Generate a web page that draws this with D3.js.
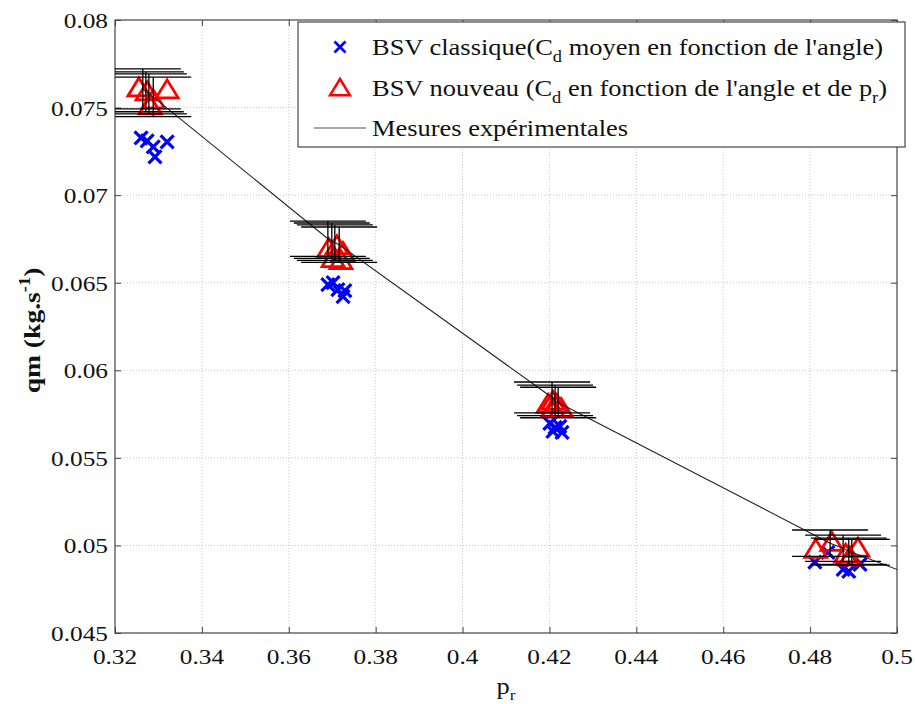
<!DOCTYPE html>
<html><head><meta charset="utf-8">
<script src="https://cdn.jsdelivr.net/npm/d3@7"></script>
<style>body{margin:0;background:#fff}</style>
</head><body><svg id="c" width="915" height="704" font-family="Liberation Serif, Times New Roman, serif"></svg>
<script>
// ---- data ----
const xTicks = [0.32,0.34,0.36,0.38,0.4,0.42,0.44,0.46,0.48,0.5];
const xTickLabels = ["0.32","0.34","0.36","0.38","0.4","0.42","0.44","0.46","0.48","0.5"];
const yTicks = [0.045,0.05,0.055,0.06,0.065,0.07,0.075,0.08];
const yTickLabels = ["0.045","0.05","0.055","0.06","0.065","0.07","0.075","0.08"];

// BSV classique (blue x)
const classiquePr = [0.3260,0.3274,0.3288,0.3292,0.3320, 0.3690,0.3702,0.3713,0.3725,0.3729, 0.4201,0.4213,0.4224,0.4208,0.4229, 0.4811,0.4841,0.4876,0.4889,0.4915];
const classiqueQm = [0.07327,0.07310,0.07276,0.07219,0.07304, 0.06489,0.06500,0.06461,0.06421,0.06455, 0.05697,0.05674,0.05680,0.05651,0.05645, 0.04904,0.04961,0.04863,0.04852,0.04892];

// BSV nouveau (red triangles)
const nouveauPr = [0.3255,0.3274,0.3288,0.3320,0.3281, 0.3692,0.3711,0.3725,0.3702,0.3720, 0.4197,0.4208,0.4217,0.4227,0.4208, 0.4813,0.4850,0.4910,0.4882,0.4892];
const nouveauQm = [0.07612,0.07590,0.07544,0.07601,0.07510, 0.06694,0.06711,0.06672,0.06637,0.06626, 0.05805,0.05822,0.05805,0.05782,0.05782, 0.04978,0.05018,0.04984,0.04950,0.04933];

// Mesures expérimentales (points with error bars)
const mesuresPr  = [0.3264,0.3271,0.3278,0.3288, 0.3690,0.3699,0.3706,0.3716, 0.4206,0.4213,0.4220, 0.4846,0.4876,0.4889,0.4896];
const mesuresQm  = [0.07607,0.07590,0.07578,0.07561, 0.06751,0.06740,0.06729,0.06717, 0.05845,0.05828,0.05816, 0.05013,0.04984,0.04967,0.04961];
const mesuresErr = [0.00114,0.00114,0.00114,0.00113, 0.00101,0.00101,0.00101,0.00101, 0.00088,0.00087,0.00087, 0.00075,0.00075,0.00075,0.00074];
// experimental curve vertices
const courbePr = [0.3264,0.3271,0.3278,0.3288, 0.3690,0.3699,0.3706,0.3716, 0.4206,0.4213,0.4220, 0.4846,0.4876,0.4889,0.4896, 0.5050];
const courbeQm = [0.07607,0.07590,0.07578,0.07561, 0.06751,0.06740,0.06729,0.06717, 0.05845,0.05828,0.05816, 0.05013,0.04984,0.04967,0.04961, 0.04815];

// ---- layout ----
const L=115, R=897, T=20, B=633;
const SX=1.15; // horizontal text stretch
const FF="Liberation Serif, Times New Roman, serif";
const svg=d3.select("#c");
const x=d3.scaleLinear().domain([0.32,0.5]).range([L,R]);
const y=d3.scaleLinear().domain([0.045,0.08]).range([B,T]);

svg.append("defs").append("clipPath").attr("id","clip")
  .append("rect").attr("x",L).attr("y",T).attr("width",R-L).attr("height",B-T);

// grid
const grid=svg.append("g");
grid.selectAll("line.gx").data(xTicks.slice(1,-1)).enter().append("line")
  .attr("x1",d=>x(d)).attr("x2",d=>x(d)).attr("y1",T).attr("y2",B)
  .attr("stroke","#c8c8c8").attr("stroke-width",1).attr("stroke-dasharray","1,2");
grid.selectAll("line.gy").data(yTicks.slice(1,-1)).enter().append("line")
  .attr("y1",d=>y(d)).attr("y2",d=>y(d)).attr("x1",L).attr("x2",R)
  .attr("stroke","#c8c8c8").attr("stroke-width",1).attr("stroke-dasharray","1,2");

// axes with inward ticks on all sides
const axCol="#444";
function mkAxis(gen, tr){ const g=svg.append("g").attr("transform",tr).call(gen);
  g.select(".domain").remove(); g.selectAll("line").attr("stroke",axCol); g.selectAll("text").remove(); return g;}
mkAxis(d3.axisBottom(x).tickValues(xTicks).tickSizeInner(-6).tickSizeOuter(0),`translate(0,${B})`);
mkAxis(d3.axisTop(x).tickValues(xTicks).tickSizeInner(-6).tickSizeOuter(0),`translate(0,${T})`);
mkAxis(d3.axisLeft(y).tickValues(yTicks).tickSizeInner(-6).tickSizeOuter(0),`translate(${L},0)`);
mkAxis(d3.axisRight(y).tickValues(yTicks).tickSizeInner(-6).tickSizeOuter(0),`translate(${R},0)`);
svg.append("rect").attr("x",L).attr("y",T).attr("width",R-L).attr("height",B-T)
  .attr("fill","none").attr("stroke",axCol).attr("stroke-width",1.2);

function txt(g){ return g.append("text").attr("font-family",FF).attr("fill","#111"); }

// tick labels
xTicks.forEach((t,i)=>{
  txt(svg.append("g").attr("transform",`translate(${x(t)},${B+31}) scale(${SX},1)`))
    .attr("text-anchor","middle").attr("font-size",22).text(xTickLabels[i]);
});
yTicks.forEach((t,i)=>{
  txt(svg.append("g").attr("transform",`translate(${L-7},${y(t)+8}) scale(${SX},1)`))
    .attr("text-anchor","end").attr("font-size",22).text(yTickLabels[i]);
});

// axis labels
const xl=txt(svg.append("g").attr("transform",`translate(${(L+R)/2},694) scale(${SX},1)`))
  .attr("text-anchor","middle").attr("font-size",23);
xl.append("tspan").text("p");
xl.append("tspan").attr("font-size",15).attr("dy",6).text("r");

const yl=txt(svg.append("g").attr("transform",`translate(40,${(T+B)/2+4}) rotate(-90) scale(${SX},1)`))
  .attr("text-anchor","middle").attr("font-size",24).attr("font-weight","bold");
yl.append("tspan").text("qm (kg.s");
yl.append("tspan").attr("font-size",16).attr("dy",-10).text("-1");
yl.append("tspan").attr("dy",10).text(")");

// plot content
const plot=svg.append("g").attr("clip-path","url(#clip)");
const blue="#0000ff", red="#ff0000";
const xPath="M-6.5,-6.5L6.5,6.5M-6.5,6.5L6.5,-6.5";
const triPath="M0,-10L11,8L-11,8Z";

plot.selectAll("path.cl").data(classiquePr.map((p,i)=>[p,classiqueQm[i]])).enter().append("path")
  .attr("d",xPath).attr("transform",d=>`translate(${x(d[0])},${y(d[1])})`)
  .attr("stroke",blue).attr("stroke-width",3.2).attr("fill","none");

plot.selectAll("path.nv").data(nouveauPr.map((p,i)=>[p,nouveauQm[i]])).enter().append("path")
  .attr("d",triPath).attr("transform",d=>`translate(${x(d[0])},${y(d[1])})`)
  .attr("stroke",red).attr("stroke-width",2.8).attr("stroke-linejoin","miter").attr("fill","none");

plot.append("path").datum(courbePr.map((p,i)=>[p,courbeQm[i]]))
  .attr("d",d3.line().x(d=>x(d[0])).y(d=>y(d[1])))
  .attr("fill","none").attr("stroke","#222").attr("stroke-width",1.1);

const cap=38;
const ebCol="#000", ebW=1.3;
const eb=plot.selectAll("g.eb").data(mesuresPr.map((p,i)=>[p,mesuresQm[i],mesuresErr[i]])).enter().append("g");
eb.append("line").attr("x1",d=>x(d[0])).attr("x2",d=>x(d[0]))
  .attr("y1",d=>y(d[1]+d[2])).attr("y2",d=>y(d[1]-d[2])).attr("stroke",ebCol).attr("stroke-width",ebW);
eb.append("line").attr("x1",d=>x(d[0])-cap).attr("x2",d=>x(d[0])+cap)
  .attr("y1",d=>y(d[1]+d[2])).attr("y2",d=>y(d[1]+d[2])).attr("stroke",ebCol).attr("stroke-width",ebW);
eb.append("line").attr("x1",d=>x(d[0])-cap).attr("x2",d=>x(d[0])+cap)
  .attr("y1",d=>y(d[1]-d[2])).attr("y2",d=>y(d[1]-d[2])).attr("stroke",ebCol).attr("stroke-width",ebW);

// legend
const lg=svg.append("g");
lg.append("rect").attr("x",298).attr("y",22).attr("width",607).attr("height",125)
  .attr("fill","#fff").attr("stroke","#444").attr("stroke-width",1.2);
lg.append("path").attr("d",xPath).attr("transform","translate(340,47) scale(0.85)")
  .attr("stroke",blue).attr("stroke-width",3.2).attr("fill","none");
lg.append("path").attr("d",triPath).attr("transform","translate(340,88) scale(0.9)")
  .attr("stroke",red).attr("stroke-width",2.8).attr("fill","none");
lg.append("line").attr("x1",314).attr("x2",366).attr("y1",128).attr("y2",128).attr("stroke","#555").attr("stroke-width",1.1);

function legText(yb, parts){
  const t=txt(lg.append("g").attr("transform",`translate(372,${yb}) scale(${SX},1)`)).attr("font-size",23);
  let dyPrev=0;
  parts.forEach(p=>{
    const dy=(p.sub?7:0)-dyPrev; dyPrev=p.sub?7:0;
    t.append("tspan").attr("dy",dy).attr("font-size",p.sub?16:23).text(p.t);
  });
}
legText(55,[{t:"BSV classique(C"},{t:"d",sub:1},{t:" moyen en fonction de l'angle)"}]);
legText(96,[{t:"BSV nouveau (C"},{t:"d",sub:1},{t:" en fonction de l'angle et de p"},{t:"r",sub:1},{t:")"}]);
legText(136,[{t:"Mesures expérimentales"}]);
</script></body></html>
